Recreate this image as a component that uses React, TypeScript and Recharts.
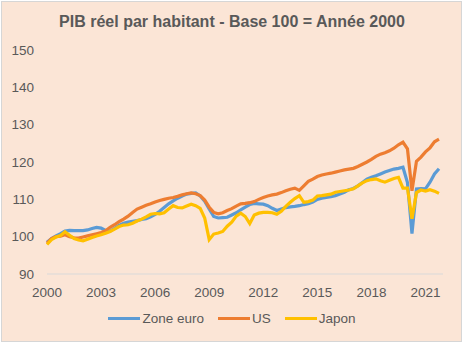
import { Legend, Line, LineChart, XAxis, YAxis } from 'recharts';

const years = [2000, 2001, 2002, 2003, 2004, 2005, 2006, 2007, 2008, 2009, 2010,
    2011, 2012, 2013, 2014, 2015, 2016, 2017, 2018, 2019, 2020, 2021];
const quarters = ['T1', 'T2', 'T3', 'T4'];
const yTicks = [90, 100, 110, 120, 130, 140, 150];
const seriesNames = ['Zone euro', 'US', 'Japon'];

const zoneEuro = [
    98.5, 99.5, 100.2, 100.8,
    101.5, 101.7, 101.6, 101.6,
    101.6, 101.8, 102.2, 102.5,
    102.3, 101.7, 101.5, 102.2,
    103.0, 103.6, 103.9, 104.1,
    104.3, 104.6, 104.8, 105.3,
    106.0, 106.8, 107.8, 108.8,
    109.6, 110.3, 110.9, 111.4,
    111.6, 111.7, 110.9, 109.5,
    107.4, 105.4, 105.0, 105.1,
    105.2, 105.8, 106.4, 107.2,
    107.9, 108.6, 108.9, 108.8,
    108.7, 108.3, 107.6, 107.0,
    107.4, 107.8, 108.0, 108.1,
    108.3, 108.6, 108.8, 109.3,
    110.0, 110.3, 110.5, 110.7,
    111.0, 111.4, 111.9, 112.6,
    112.9, 113.6, 114.5, 115.4,
    115.9, 116.3, 116.8, 117.3,
    117.7, 118.1, 118.3, 118.6,
    114.5, 100.8, 112.8, 112.9,
    112.8, 114.6, 116.8, 118.2
];

const us = [
    98.3, 99.5, 100.0, 100.1,
    100.5, 100.0, 99.7, 99.6,
    99.9, 100.2, 100.5, 100.8,
    101.1, 101.6, 102.5, 103.2,
    104.0, 104.7, 105.5, 106.5,
    107.4, 107.9, 108.4, 108.8,
    109.3, 109.7, 110.0, 110.3,
    110.5, 110.8, 111.2, 111.5,
    111.7, 111.5, 111.0, 109.8,
    107.9, 106.5, 106.1, 106.4,
    107.0, 107.5, 108.2, 108.8,
    108.9, 109.1, 109.4, 110.0,
    110.5, 110.9, 111.2, 111.4,
    111.8, 112.3, 112.7, 113.0,
    112.4, 113.6, 114.8, 115.4,
    116.1, 116.5, 116.8, 117.0,
    117.3, 117.6, 117.9, 118.1,
    118.3, 118.8, 119.4, 120.0,
    120.7, 121.5, 122.1, 122.5,
    123.0, 123.7, 124.6, 125.3,
    123.5, 112.3, 120.2, 121.3,
    122.7, 123.8, 125.4, 126.1
];

const japon = [
    97.9, 99.2, 99.9, 100.3,
    101.3, 100.4, 99.5, 99.1,
    98.9, 99.3, 99.8, 100.2,
    100.5, 100.9, 101.4, 102.0,
    102.7, 103.1, 103.2, 103.6,
    104.2, 104.7, 105.3, 106.0,
    106.2, 106.1, 106.4, 107.4,
    108.3, 107.8, 107.7, 108.2,
    108.7, 108.3, 107.6, 105.0,
    99.2, 100.7, 101.0, 101.4,
    102.8, 103.9, 105.5, 106.3,
    105.4, 103.5, 105.8, 106.3,
    106.5, 106.5, 106.4, 106.0,
    106.8, 108.1, 109.2, 110.2,
    111.0, 109.2, 109.4, 109.8,
    110.9, 111.0, 111.2, 111.4,
    111.9, 112.1, 112.3, 112.5,
    112.8, 113.6, 114.4, 115.0,
    115.3, 115.5, 115.0, 114.6,
    115.1, 115.6, 115.9, 113.0,
    113.0, 104.8, 111.8, 112.5,
    112.2, 112.6, 112.2, 111.6
];

const labels = years.flatMap(y => quarters.map(q => `${y} ${q}`));
const data = labels.map((label, i) => ({
    label,
    euro: zoneEuro[i],
    us: us[i],
    japon: japon[i]
}));

const FONT = '"Liberation Sans", Arial, sans-serif';
const TEXT = '#595959';

// keep the legend in series order (Recharts sorts it by name otherwise)
const renderLegend = ({ payload }) => {
    const items = [...payload].sort((a, b) => seriesNames.indexOf(a.value) - seriesNames.indexOf(b.value));
    return (
        <div style={{ display: 'flex', justifyContent: 'center', alignItems: 'center',
                fontFamily: FONT, fontSize: 13.5, color: TEXT }}>
            {items.map(entry => (
                <span key={entry.value} style={{ display: 'flex', alignItems: 'center', margin: '0 7px' }}>
                    <span style={{ display: 'inline-block', width: 32, height: 3, background: entry.color, marginRight: 2 }} />
                    {entry.value}
                </span>
            ))}
        </div>
    );
};

export default function App() {
    return (
        <div style={{ position: 'absolute', left: 0, top: 0, width: 464, height: 345, background: '#fff' }}>
            <div style={{ position: 'absolute', left: 1, top: 1, width: 461, height: 341, boxSizing: 'border-box',
                    border: '1px solid #d6d6d6', background: '#FBE5D6' }} />
            <div style={{ position: 'absolute', left: 0, top: 14, width: 464, textAlign: 'center',
                    fontFamily: FONT, fontWeight: 'bold', fontSize: 16, lineHeight: '16px', color: TEXT }}>
                PIB réel par habitant - Base 100 = Année 2000
            </div>
            <div style={{ position: 'absolute', left: 0, top: 0 }}>
                <LineChart width={464} height={345} data={data}
                        margin={{ top: 50, right: 21, bottom: 41, left: 0 }}>
                    <XAxis dataKey="label" interval={11} tickFormatter={v => v.slice(0, 4)}
                            tickLine={false} tickSize={0} tickMargin={13} height={30}
                            axisLine={{ stroke: '#d9d9d9', strokeWidth: 1 }} padding={{ left: 0, right: 4 }}
                            tick={{ fill: TEXT, fontSize: 13.5, fontFamily: FONT }} />
                    <YAxis domain={[90, 150]} ticks={yTicks} width={47} axisLine={false}
                            tickLine={false} tickSize={0} tickMargin={13}
                            tick={{ fill: TEXT, fontSize: 13.5, fontFamily: FONT }} />
                    <Legend layout="horizontal" verticalAlign="middle" align="center" content={renderLegend}
                            wrapperStyle={{ top: 311, left: 0, width: 464 }} />
                    <Line type="linear" dataKey="euro" name="Zone euro" stroke="#5B9BD5" strokeWidth={3.2}
                            dot={false} isAnimationActive={false} />
                    <Line type="linear" dataKey="us" name="US" stroke="#ED7D31" strokeWidth={3.2}
                            dot={false} isAnimationActive={false} />
                    <Line type="linear" dataKey="japon" name="Japon" stroke="#FFC000" strokeWidth={3.2}
                            dot={false} isAnimationActive={false} />
                </LineChart>
            </div>
        </div>
    );
}
